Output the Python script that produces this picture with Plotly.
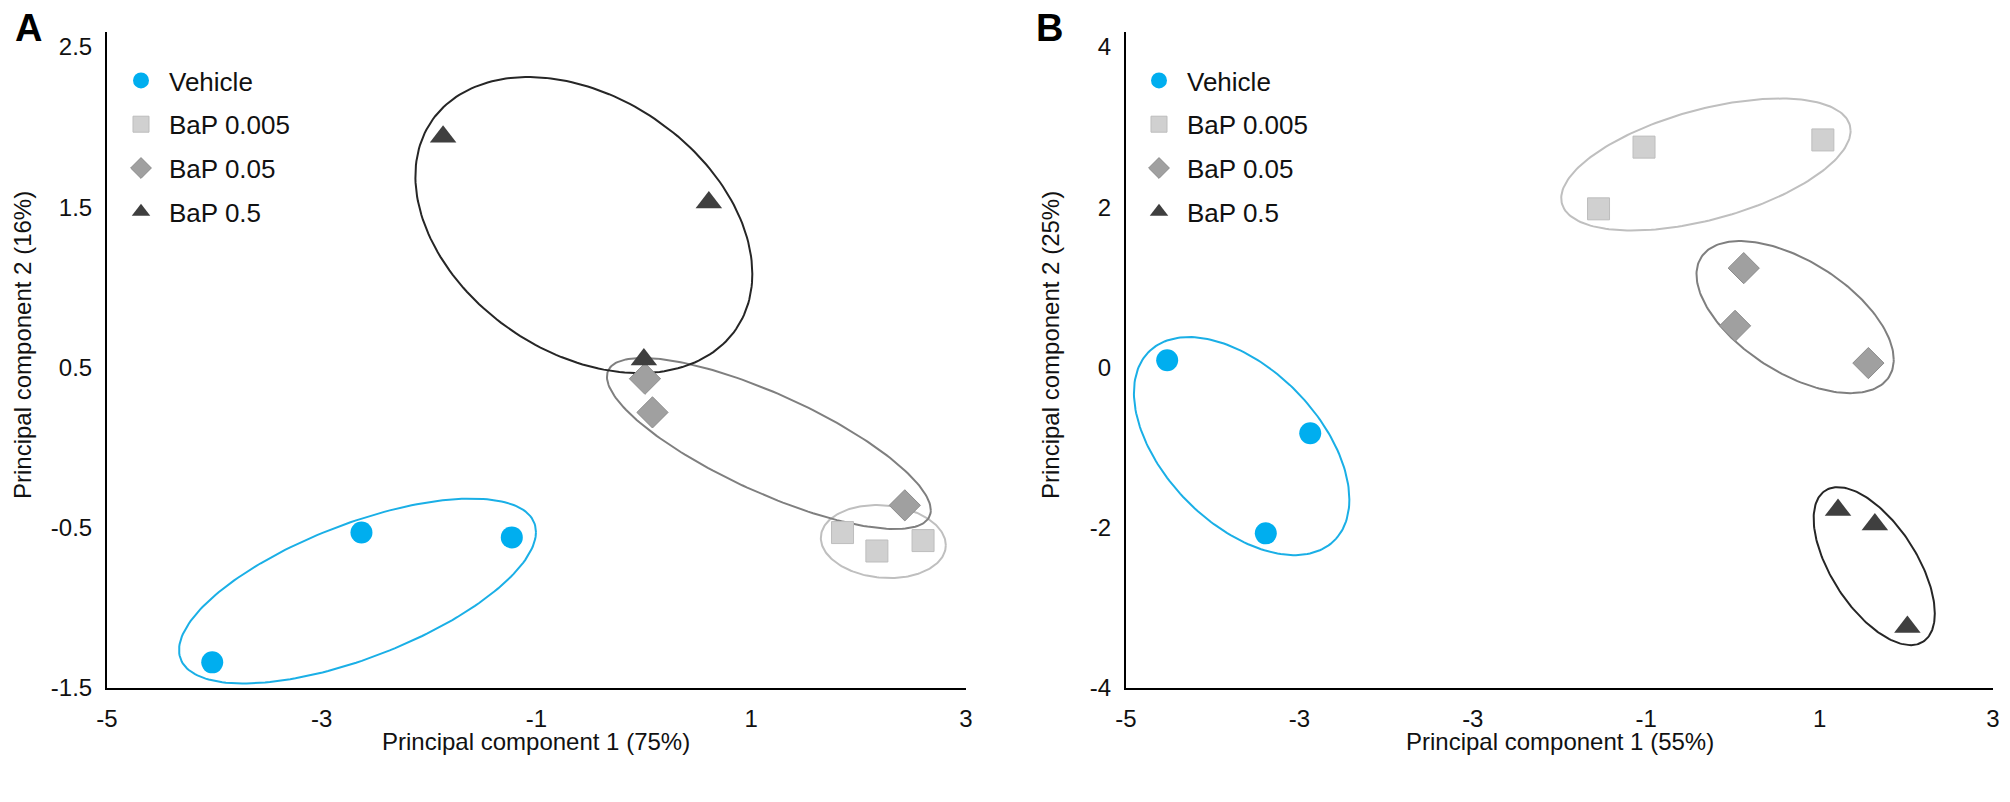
import numpy as np
import plotly.graph_objects as go
from plotly.subplots import make_subplots

groups = ["Vehicle", "BaP 0.005", "BaP 0.05", "BaP 0.5"]

# panel A scores (PC1 75%, PC2 16%)
a_vehicle_x = [-4.02, -2.63, -1.23]
a_vehicle_y = [-1.34, -0.53, -0.56]
a_bap0005_x = [1.85, 2.17, 2.60]
a_bap0005_y = [-0.53, -0.645, -0.58]
a_bap005_x = [0.01, 0.08, 2.43]
a_bap005_y = [0.43, 0.22, -0.36]
a_bap05_x = [-1.87, 0.605, 0.0]
a_bap05_y = [1.94, 1.53, 0.55]

# panel B scores (PC1 55%, PC2 25%)
b_vehicle_x = [-4.62, -3.30, -3.71]
b_vehicle_y = [0.09, -0.82, -2.07]
b_bap0005_x = [-0.64, -0.22, 1.43]
b_bap0005_y = [1.98, 2.75, 2.84]
b_bap005_x = [0.70, 0.62, 1.85]
b_bap005_y = [1.24, 0.52, 0.055]
b_bap05_x = [1.57, 1.91, 2.21]
b_bap05_y = [-1.78, -1.96, -3.24]

# group ellipses: centre x, centre y, half width, half height, tilt (rho)
a_ellipses = [
    (-2.667, -0.895, 1.662, 0.577, 0.638),
    (2.23, -0.586, 0.582, 0.228, -0.1),
    (1.164, 0.026, 1.508, 0.534, -0.78),
    (-0.559, 1.389, 1.569, 0.924, -0.33),
]
b_ellipses = [
    (-3.933, -0.981, 0.994, 1.361, -0.49),
    (0.351, 2.533, 1.335, 0.824, 0.51),
    (1.174, 0.629, 0.910, 0.949, -0.56),
    (1.904, -2.479, 0.559, 0.986, -0.6),
]

a_xticks = [-5, -3, -1, 1, 3]
a_xticktext = ["-5", "-3", "-1", "1", "3"]
a_yticks = [-1.5, -0.5, 0.5, 1.5, 2.5]
a_yticktext = ["-1.5", "-0.5", "0.5", "1.5", "2.5"]
b_xticks = [-5, -3.4, -1.8, -0.2, 1.4, 3]
b_xticktext = ["-5", "-3", "-3", "-1", "1", "3"]
b_yticks = [-4, -2, 0, 2, 4]
b_yticktext = ["-4", "-2", "0", "2", "4"]

marker_styles = [
    dict(symbol="circle", size=22, color="#00AEEF", line=dict(width=0)),
    dict(symbol="square", size=22, color="#D0D0D0", line=dict(width=1, color="#BDBDBD")),
    dict(symbol="diamond", size=24, color="#A0A0A0", line=dict(width=1, color="#8C8C8C")),
    dict(symbol="triangle-up", size=23, color="#3F3F3F", line=dict(width=0)),
]
ellipse_colors = ["#1AAFE6", "#BFBFBF", "#7F7F7F", "#262626"]

# the page body adds an 8px margin, so the figure is laid out in shifted pixels
OFF = 8
W, H = 2010 - OFF, 802 - OFF


def px_x(p):
    return (p - OFF) / W


def px_y(p):
    return 1 - (p - OFF) / H


def ellipse_xy(cx, cy, rx, ry, rho):
    t = np.linspace(0, 2 * np.pi, 200)
    x = cx + rx * np.cos(t)
    y = cy + ry * (rho * np.cos(t) + np.sqrt(1 - rho ** 2) * np.sin(t))
    return x, y


fig = make_subplots(rows=1, cols=2)

panels = [
    (1, "legend", a_ellipses,
     [(a_vehicle_x, a_vehicle_y), (a_bap0005_x, a_bap0005_y), (a_bap005_x, a_bap005_y), (a_bap05_x, a_bap05_y)]),
    (2, "legend2", b_ellipses,
     [(b_vehicle_x, b_vehicle_y), (b_bap0005_x, b_bap0005_y), (b_bap005_x, b_bap005_y), (b_bap05_x, b_bap05_y)]),
]

for col, leg, ellipses, series in panels:
    # ellipses first so the markers sit on top
    for i, e in enumerate(ellipses):
        ex, ey = ellipse_xy(*e)
        fig.add_trace(go.Scatter(x=ex, y=ey, mode="lines", line=dict(color=ellipse_colors[i], width=2),
                                 showlegend=False, hoverinfo="skip"), row=1, col=col)
    for i, (sx, sy) in enumerate(series):
        fig.add_trace(go.Scatter(x=sx, y=sy, mode="markers", name=groups[i], marker=marker_styles[i],
                                 legend=leg, legendgroup=leg + str(i)), row=1, col=col)

tick_font = dict(family="Liberation Sans Narrow, Arial Narrow, Liberation Sans, Arial", size=24, color="#111111")
axis_common = dict(showgrid=False, zeroline=False, ticks="", tickfont=tick_font, automargin=False,
                   showline=True, linecolor="#000000", linewidth=2)

fig.update_xaxes(axis_common, ticklabelstandoff=8)
fig.update_yaxes(axis_common, ticklabelstandoff=8)
fig.update_xaxes(domain=[px_x(107), px_x(966)], range=[-5, 3], tickvals=a_xticks, ticktext=a_xticktext,
                 row=1, col=1)
fig.update_xaxes(domain=[px_x(1126), px_x(1993)], range=[-5, 3], tickvals=b_xticks, ticktext=b_xticktext,
                 row=1, col=2)
fig.update_yaxes(domain=[px_y(688), px_y(32)], range=[-1.5, 2.594], tickvals=a_yticks, ticktext=a_yticktext,
                 row=1, col=1)
fig.update_yaxes(domain=[px_y(688), px_y(32)], range=[-4, 4.187], tickvals=b_yticks, ticktext=b_yticktext,
                 row=1, col=2)

title_font = dict(family="Liberation Sans, Arial", size=24, color="#111111")
letter_font = dict(family="Liberation Sans, Arial", size=38, color="#000000")
legend_style = dict(font=dict(family="Liberation Sans, Arial", size=26, color="#111111"),
                    bgcolor="rgba(0,0,0,0)", tracegroupgap=7, xanchor="left", yanchor="top",
                    itemsizing="trace", itemwidth=46)


def note(text, x, y, font, angle=0):
    return dict(text=text, x=px_x(x), y=px_y(y), xref="paper", yref="paper", xanchor="center",
                yanchor="middle", showarrow=False, textangle=angle, font=font)


fig.update_layout(
    width=W,
    height=H,
    margin=dict(l=0, r=0, t=0, b=0),
    plot_bgcolor="white",
    paper_bgcolor="white",
    legend=dict(legend_style, x=px_x(113), y=px_y(57)),
    legend2=dict(legend_style, x=px_x(1131), y=px_y(57)),
    annotations=[
        note("Principal component 1 (75%)", 536, 741, title_font),
        note("Principal component 1 (55%)", 1560, 741, title_font),
        note("Principal component 2 (16%)", 22, 345, title_font, -90),
        note("Principal component 2 (25%)", 1050, 345, title_font, -90),
        note("<b>A</b>", 28, 28, letter_font),
        note("<b>B</b>", 1049, 28, letter_font),
    ],
)

fig.write_html("out.html")
